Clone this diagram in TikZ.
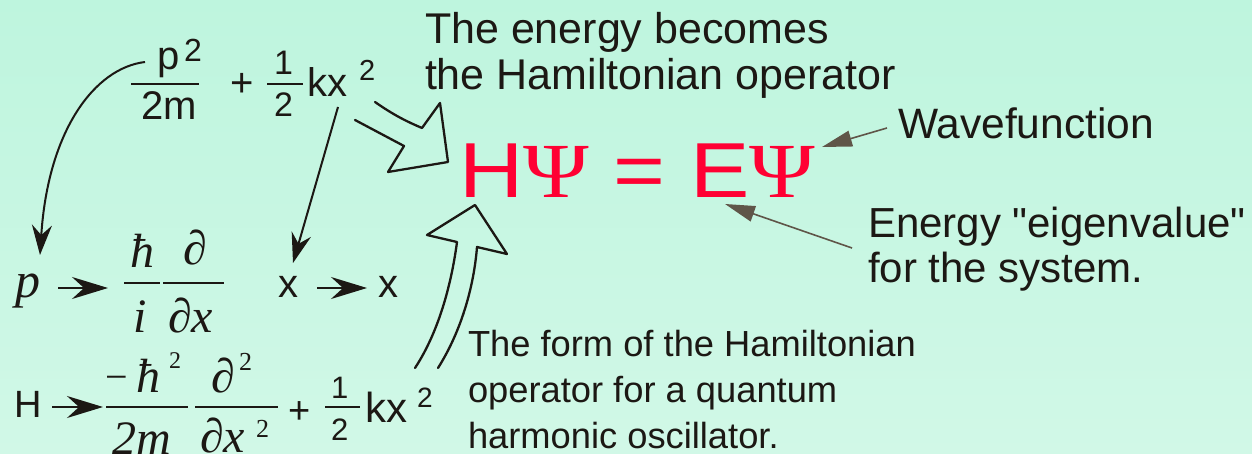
\documentclass[tikz,border=0pt]{standalone}
\usepackage{fontspec}
\setmainfont{Liberation Sans}[Ligatures=TeXOff]
\newfontfamily\lserif{Liberation Serif}
\usetikzlibrary{arrows.meta}
\definecolor{bgtop}{RGB}{190,245,222}
\definecolor{bgbot}{RGB}{209,248,231}
\definecolor{ink}{RGB}{28,24,20}
\definecolor{eqred}{RGB}{255,0,51}
\definecolor{thinc}{RGB}{95,85,72}
\newcommand{\fsz}[1]{\fontsize{#1}{#1}\selectfont}
\newcommand{\fsl}[2]{\fontsize{#1}{#2}\selectfont}
\tikzset{
  lbl/.style={inner sep=0pt, outer sep=0pt, anchor=base west, text=ink},
  mi/.style={lbl, font=\lserif\itshape\fsz{48}},
  ms/.style={lbl, font=\fsz{40}},
  fbar/.style={draw=ink, line width=2.5pt},
  sarr/.style={draw=ink, line width=2pt, -{Stealth[length=36pt,width=22pt,inset=12pt]}},
  darr/.style={draw=ink, line width=2pt, -{Stealth[length=30pt,width=20pt,inset=10pt]}},
  tarr/.style={draw=thinc, line width=1.6pt, -{Triangle[length=30pt,width=16pt]}},
  hollow/.style={draw=ink, line width=2.3pt, line join=round, line cap=round},
  note/.style={inner sep=0pt, outer sep=0pt, anchor=north west, text=ink, align=left},
}
\begin{document}
\begin{tikzpicture}[x=1pt,y=-1pt]
\shade[top color=bgtop, bottom color=bgbot] (0,0) rectangle (1252,454);
\useasboundingbox (0,0) rectangle (1252,454);

% ---- row 1: p^2/2m + 1/2 kx^2
\node[ms] (p1) at (157,70) {p};
\node[lbl,font=\fsz{32}] (p1s) at (184,62) {2};
\draw[fbar] (131,84) coordinate (b1a) -- (199,84) coordinate (b1b);
\node[ms] (m1) at (141,120) {2m};
\node[ms] (pl1) at (230,97) {+};
\node[lbl,font=\fsz{34}] (o1) at (274,75) {1};
\draw[fbar] (267,84) coordinate (b2a) -- (303,84) coordinate (b2b);
\node[lbl,font=\fsz{34}] (t1) at (274,117) {2};
\node[ms] (kx1) at (307,97) {kx};
\node[lbl,font=\fsz{29}] (kx1s) at (359,81) {2};

% ---- row 2: p -> hbar/i d/dx   x -> x
\node[lbl,font=\lserif\itshape\fsz{50}] (p2) at (16,297) {p};
\node[mi] (hb2) at (130,267) {ħ};
\draw[fbar] (124,283) coordinate (b3a) -- (160,283) coordinate (b3b);
\node[mi] (i2) at (133,332) {i};
\node[mi] (d2) at (183,265) {∂};
\draw[fbar] (163,283) coordinate (b4a) -- (224,283) coordinate (b4b);
\node[mi] (dx2) at (168,332) {∂x};
\node[ms] (x2a) at (278,297) {x};
\node[ms] (x2b) at (378,297) {x};
\coordinate (a1s) at (58,288);  \coordinate (a1e) at (108,288);
\coordinate (a2s) at (317,288); \coordinate (a2e) at (367,288);
\draw[sarr] (a1s) -- (a1e);
\draw[sarr] (a2s) -- (a2e);

% ---- row 3: H -> -hbar^2/2m d^2/dx^2 + 1/2 kx^2
\node[lbl,font=\fsz{38}] (H3) at (14,417) {H};
\coordinate (a3s) at (52,407); \coordinate (a3e) at (103,407);
\draw[sarr] (a3s) -- (a3e);
\node[lbl,font=\lserif\fsz{40}] (mn3) at (105,390) {−};
\node[mi] (hb3) at (136,392) {ħ};
\node[lbl,font=\lserif\fsz{24}] (hb3s) at (169,368) {2};
\draw[fbar] (106,407) coordinate (b5a) -- (188,407) coordinate (b5b);
\node[mi] (m3) at (112,454) {2m};
\node[mi] (d3) at (211,392) {∂};
\node[lbl,font=\lserif\fsz{26}] (d3s) at (239,370) {2};
\draw[fbar] (195,407) coordinate (b6a) -- (278,407) coordinate (b6b);
\node[mi] (dx3) at (200,452) {∂x};
\node[lbl,font=\lserif\fsz{26}] (dx3s) at (256,437) {2};
\node[lbl,font=\fsz{38}] (pl3) at (288,423) {+};
\node[lbl,font=\fsz{31}] (o3) at (331,398) {1};
\draw[fbar] (325,407) coordinate (b7a) -- (360,407) coordinate (b7b);
\node[lbl,font=\fsz{31}] (t3) at (331,440) {2};
\node[lbl,font=\fsz{42}] (kx3) at (365,422) {kx};
\node[lbl,font=\fsz{28}] (kx3s) at (417,407) {2};

% ---- substitution arrows
\coordinate (c1s) at (145,62); \coordinate (c1e) at (40,255);
\draw[darr] (c1s) .. controls (95,68) and (48,130) .. (c1e);
\coordinate (c2s) at (338,107); \coordinate (c2e) at (293,263);
\draw[darr] (c2s) -- (c2e);

% ---- the equation
\node[inner sep=0pt, anchor=base west, text=eqred, font=\fsz{78}, xscale=1.14] (eq) at (459,198)
  {H{\lserif Ψ} = E{\lserif Ψ}};

% ---- hollow arrows
\draw[hollow] (375,102) .. controls (395,116) and (408,122) .. (422,128) -- (440,103) -- (448,162)
  -- (388,172) -- (404,146) -- (355,120);
\draw[hollow] (415,368) .. controls (440,330) and (452,280) .. (457,242) -- (427,235) -- (475,205)
  -- (507,254) -- (477,247) .. controls (474,285) and (462,330) .. (438,368);

% ---- captions
\node[note, font=\fsl{43}{46}] (cap1) at (425,12) {The energy becomes\\the Hamiltonian operator};
\node[note, font=\fsz{42.5}] (wave) at (898,108) {Wavefunction};
\node[note, font=\fsl{42}{45}] (eig) at (868,207) {Energy "eigenvalue"\\for the system.};
\node[note, font=\fsl{36.3}{46}] (cap2) at (468,330) {The form of the Hamiltonian\\operator for a quantum\\harmonic oscillator.};

\coordinate (w1) at (887,128); \coordinate (w2) at (822,147);
\draw[tarr] (w1) -- (w2);
\coordinate (e1) at (852,248); \coordinate (e2) at (725,204);
\draw[tarr] (e1) -- (e2);
\end{tikzpicture}
\end{document}
